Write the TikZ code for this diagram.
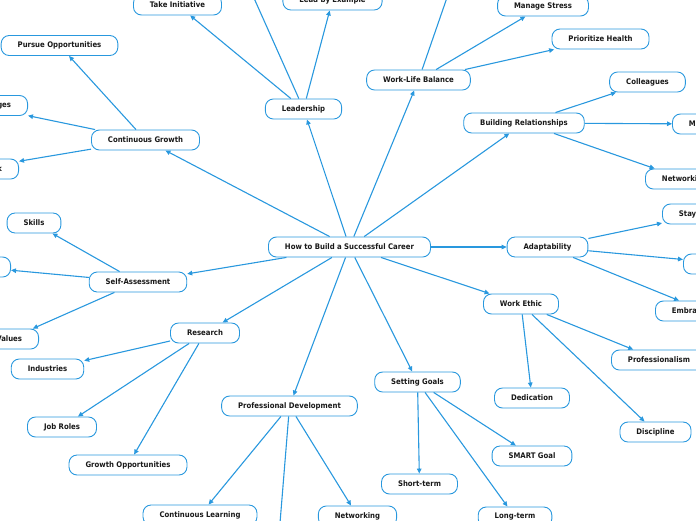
\documentclass[tikz,border=0pt]{standalone}
\usepackage{fontspec}
\setmainfont{DejaVu Sans Condensed}
\usetikzlibrary{arrows.meta}
\definecolor{mmblue}{RGB}{41,152,222}
\begin{document}
\begin{tikzpicture}[x=1pt,y=-1pt,
  box/.style={draw=mmblue, line width=0.9pt, rounded corners=8pt, fill=white,
    inner xsep=16.5pt, inner ysep=0pt, minimum height=20pt,
    font=\bfseries\fontsize{7.7}{9}\selectfont, text=black!90},
  link/.style={draw=mmblue, line width=1.1pt, -{Triangle[length=5pt,width=4.5pt]}}]
\useasboundingbox (0,0) rectangle (696,520);
\clip (0,0) rectangle (696,520);
% central
\node[box] (c) at (349.5,247) {How to Build a Successful Career};
% first level
\node[box] (lead) at (303.5,109) {Leadership};
\node[box] (wlb) at (418.5,80) {Work-Life Balance};
\node[box] (br) at (524,123) {Building Relationships};
\node[box] (ad) at (547.5,247) {Adaptability};
\node[box] (we) at (521,304) {Work Ethic};
\node[box] (sg) at (417.5,382) {Setting Goals};
\node[box] (pd) at (289.5,406) {Professional Development};
\node[box] (re) at (205,333) {Research};
\node[box] (sa) at (138,282) {Self-Assessment};
\node[box] (cg) at (145.5,140) {Continuous Growth};
% leadership
\node[box] (ti) at (177.5,5) {Take Initiative};
\node[box] (le) at (332.5,0) {Lead by Example};
\node[box] (io) at (237,-40) {Inspire Others};
% work-life
\node[box] (ms) at (543,6) {Manage Stress};
\node[box] (ph) at (600.5,39) {Prioritize Health};
\node[box] (sb) at (460,-40) {Set Boundaries};
% relationships
\node[box] (co) at (647.5,82) {Colleagues};
\node[box, anchor=west] (me) at (672,124) {Mentors};
\node[box, anchor=west] (nw) at (645,179) {Networking};
% adaptability
\node[box, anchor=west] (su) at (662,214) {Stay Updated};
\node[box, anchor=west] (ln) at (683,264) {Learn New Skills};
\node[box, anchor=west] (ec) at (655,311) {Embrace Change};
% work ethic
\node[box, anchor=west] (pr) at (611,360) {Professionalism};
\node[box] (de) at (532,398) {Dedication};
\node[box] (di) at (655.5,432) {Discipline};
% setting goals
\node[box] (sm) at (532,456) {SMART Goal};
\node[box] (st) at (419.5,484) {Short-term};
\node[box] (lt) at (515,517) {Long-term};
% professional development
\node[box] (cl) at (200,515) {Continuous Learning};
\node[box] (pn) at (357.5,516) {Networking};
\node[box] (ws) at (277,560) {Workshops};
% research
\node[box] (in) at (47.5,369) {Industries};
\node[box] (jr) at (62,427) {Job Roles};
\node[box] (go) at (128,465) {Growth Opportunities};
% self-assessment
\node[box] (sk) at (34,223) {Skills};
\node[box, anchor=east] (it) at (11,267) {Interests};
\node[box, anchor=east] (va) at (39,339) {Values};
% continuous growth
\node[box] (po) at (59.5,45.5) {Pursue Opportunities};
\node[box, anchor=east] (sc) at (28,105.5) {Seek Challenges};
\node[box, anchor=east] (sf) at (19,169) {Seek Feedback};
% connectors
\foreach \a/\b in {c/lead,c/wlb,c/br,c/ad,c/we,c/sg,c/pd,c/re,c/sa,c/cg,
  lead/ti,lead/le,lead/io,wlb/ms,wlb/ph,wlb/sb,br/co,br/me,br/nw,
  ad/su,ad/ln,ad/ec,we/pr,we/de,we/di,sg/sm,sg/st,sg/lt,
  pd/cl,pd/pn,pd/ws,re/in,re/jr,re/go,sa/sk,sa/it,sa/va,
  cg/po,cg/sc,cg/sf}
  \draw[link] (\a) -- (\b);
\end{tikzpicture}
\end{document}
